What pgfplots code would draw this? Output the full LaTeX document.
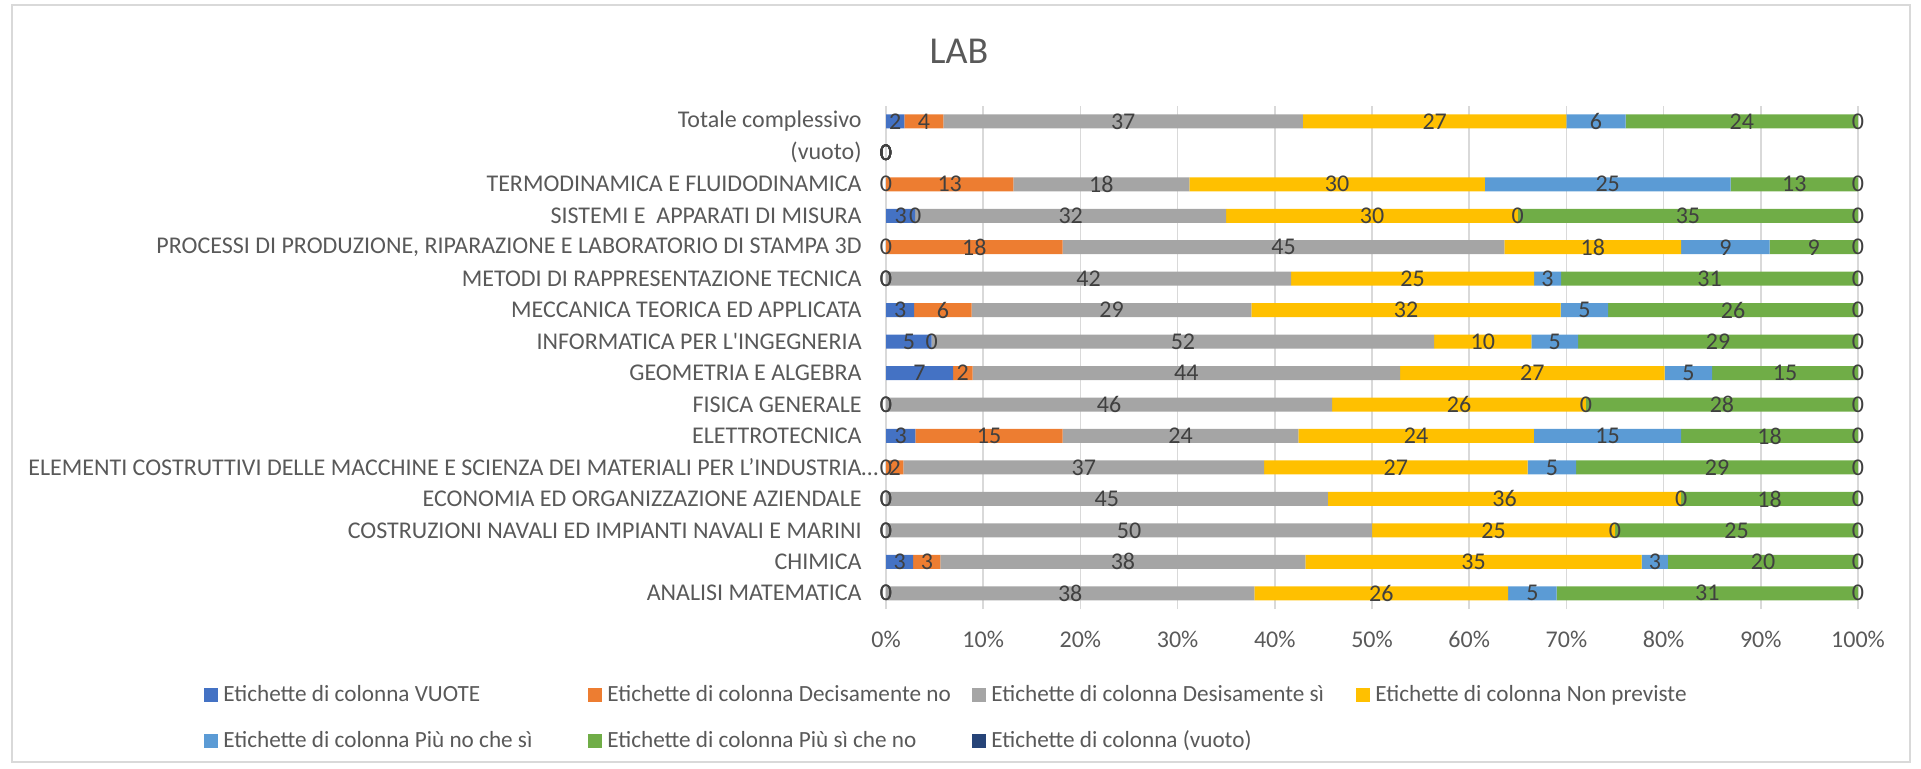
\documentclass[border=0pt]{standalone}
\usepackage{fontspec}
\setmainfont{Carlito}
\usepackage{pgfplots}
\usepackage{pgfplotstable}
\pgfplotsset{compat=1.18}
\definecolor{cVU}{HTML}{4472C4}
\definecolor{cDN}{HTML}{ED7D31}
\definecolor{cDS}{HTML}{A5A5A5}
\definecolor{cNP}{HTML}{FFC000}
\definecolor{cPN}{HTML}{5B9BD5}
\definecolor{cPS}{HTML}{70AD47}
\definecolor{cVV}{HTML}{264478}
\definecolor{gridgray}{HTML}{D9D9D9}
\definecolor{labelgray}{HTML}{595959}
\definecolor{datagray}{HTML}{404040}

\pgfplotstableread{
idx VU DN DS NP PN PS VV
0 0 0 37.9 26.1 5.0 31.0 0
1 2.8 2.8 37.55 34.6 2.7 19.55 0
2 0 0 50 25 0 25 0
3 0 0 45.45 36.36 0 18.19 0
4 0 1.8 37.1 27.1 5.0 29.0 0
5 3.03 15.15 24.24 24.24 15.15 18.19 0
6 0 0 45.9 26.1 0 28.0 0
7 6.9 2.0 44.0 27.2 4.9 15.0 0
8 4.7 0 51.7 10.0 4.8 28.8 0
9 2.9 5.9 28.8 31.8 4.9 25.7 0
10 0 0 41.67 25.0 2.78 30.55 0
11 0 18.18 45.45 18.18 9.09 9.10 0
12 3 0 32 30 0 35 0
13 0 13.1 18.1 30.4 25.3 13.1 0
14 0 0 0 0 0 0 0
15 1.9 4.0 37.0 27.1 6.1 23.9 0
}\datatable
% midpoints of the stacked segments, for the data labels
\pgfplotstablecreatecol[create col/expr={\thisrow{VU}/2}]{mVU}{\datatable}
\pgfplotstablecreatecol[create col/expr={\thisrow{VU}+\thisrow{DN}/2}]{mDN}{\datatable}
\pgfplotstablecreatecol[create col/expr={\thisrow{VU}+\thisrow{DN}+\thisrow{DS}/2}]{mDS}{\datatable}
\pgfplotstablecreatecol[create col/expr={\thisrow{VU}+\thisrow{DN}+\thisrow{DS}+\thisrow{NP}/2}]{mNP}{\datatable}
\pgfplotstablecreatecol[create col/expr={\thisrow{VU}+\thisrow{DN}+\thisrow{DS}+\thisrow{NP}+\thisrow{PN}/2}]{mPN}{\datatable}
\pgfplotstablecreatecol[create col/expr={\thisrow{VU}+\thisrow{DN}+\thisrow{DS}+\thisrow{NP}+\thisrow{PN}+\thisrow{PS}/2}]{mPS}{\datatable}
\pgfplotstablecreatecol[create col/expr={\thisrow{VU}+\thisrow{DN}+\thisrow{DS}+\thisrow{NP}+\thisrow{PN}+\thisrow{PS}+\thisrow{VV}/2}]{mVV}{\datatable}

\pgfplotsset{
  common/.style={
    at={(443pt,79.5pt)}, anchor=south west,
    x=4.86pt, y=15.73pt,
    xmin=0, xmax=100, ymin=-0.5, ymax=15.5,
  },
  lbl/.style={draw=none, mark=none, point meta=explicit,
    nodes near coords={\pgfmathprintnumber[fixed,precision=0,assume math mode=true]{\pgfplotspointmeta}},
    every node near coord/.style={anchor=center, inner sep=0pt, font=\fontsize{12}{14}\selectfont, text=datagray}},
}

\begin{document}
\begin{tikzpicture}
\useasboundingbox (0pt,0pt) rectangle (960.5pt,384pt);
\draw[color=gridgray, line width=0.75pt] (6pt,3pt) rectangle (955pt,381.5pt);
\node[font=\fontsize{19}{22}\selectfont, text=labelgray] at (479.5pt,358.3pt) {LAB};
\begin{axis}[
  common,
  xbar stacked, bar width=7pt,
  xtick={0,10,...,100},
  xticklabel={\pgfmathprintnumber[assume math mode=true]{\tick}\%},
  ytick={0,1,...,15},
  yticklabels={ANALISI MATEMATICA, CHIMICA, COSTRUZIONI NAVALI ED IMPIANTI NAVALI E MARINI, ECONOMIA ED ORGANIZZAZIONE AZIENDALE, ELEMENTI COSTRUTTIVI DELLE MACCHINE E SCIENZA DEI MATERIALI PER L’INDUSTRIA\rlap{…}, ELETTROTECNICA, FISICA GENERALE, GEOMETRIA E ALGEBRA, INFORMATICA PER L\textquotesingle INGEGNERIA, MECCANICA TEORICA ED APPLICATA, METODI DI RAPPRESENTAZIONE TECNICA, {PROCESSI DI PRODUZIONE, RIPARAZIONE E LABORATORIO DI STAMPA 3D}, SISTEMI E\ \ APPARATI DI MISURA, TERMODINAMICA E FLUIDODINAMICA, (vuoto), Totale complessivo},
  xmajorgrids, grid style={color=gridgray, line width=0.75pt},
  axis line style={draw=none}, major tick length=0pt,
  tick label style={font=\fontsize{12}{14}\selectfont, text=labelgray},
  xticklabel style={anchor=center, yshift=-15pt},
  yticklabel style={anchor=east, inner sep=0pt, xshift=-12pt},
  legend columns=4,
  legend cell align=left,
  legend image code/.code={\fill[#1] (0pt,-3.5pt) rectangle (7pt,3.5pt); \path (9.8pt,0pt);},
  legend style={at={(-0.7085,-0.1345)}, anchor=north west, draw=none, fill=none,
    font=\fontsize{11.6}{13.5}\selectfont, text=labelgray, column sep=0pt, row sep=9.4pt,
    nodes={inner xsep=0pt}},
]
\addplot[fill=cVU, draw=none] table[x=VU, y=idx] {\datatable};
\addlegendentry{\makebox[182.2pt][l]{Etichette di colonna VUOTE}}
\addplot[fill=cDN, draw=none] table[x=DN, y=idx] {\datatable};
\addlegendentry{\makebox[182.2pt][l]{Etichette di colonna Decisamente no}}
\addplot[fill=cDS, draw=none] table[x=DS, y=idx] {\datatable};
\addlegendentry{\makebox[182.2pt][l]{Etichette di colonna Desisamente sì}}
\addplot[fill=cNP, draw=none] table[x=NP, y=idx] {\datatable};
\addlegendentry{Etichette di colonna Non previste}
\addplot[fill=cPN, draw=none] table[x=PN, y=idx] {\datatable};
\addlegendentry{Etichette di colonna Più no che sì}
\addplot[fill=cPS, draw=none] table[x=PS, y=idx] {\datatable};
\addlegendentry{Etichette di colonna Più sì che no}
\addplot[fill=cVV, draw=none] table[x=VV, y=idx] {\datatable};
\addlegendentry{Etichette di colonna (vuoto)}
\end{axis}
\begin{axis}[common, hide axis, clip=false]
\addplot[lbl] table[x=mVU, y=idx, meta=VU] {\datatable};
\addplot[lbl] table[x=mDN, y=idx, meta=DN] {\datatable};
\addplot[lbl] table[x=mDS, y=idx, meta=DS] {\datatable};
\addplot[lbl] table[x=mNP, y=idx, meta=NP] {\datatable};
\addplot[lbl] table[x=mPN, y=idx, meta=PN] {\datatable};
\addplot[lbl] table[x=mPS, y=idx, meta=PS] {\datatable};
\addplot[lbl] table[x=mVV, y=idx, meta=VV] {\datatable};
\end{axis}
\end{tikzpicture}
\end{document}
